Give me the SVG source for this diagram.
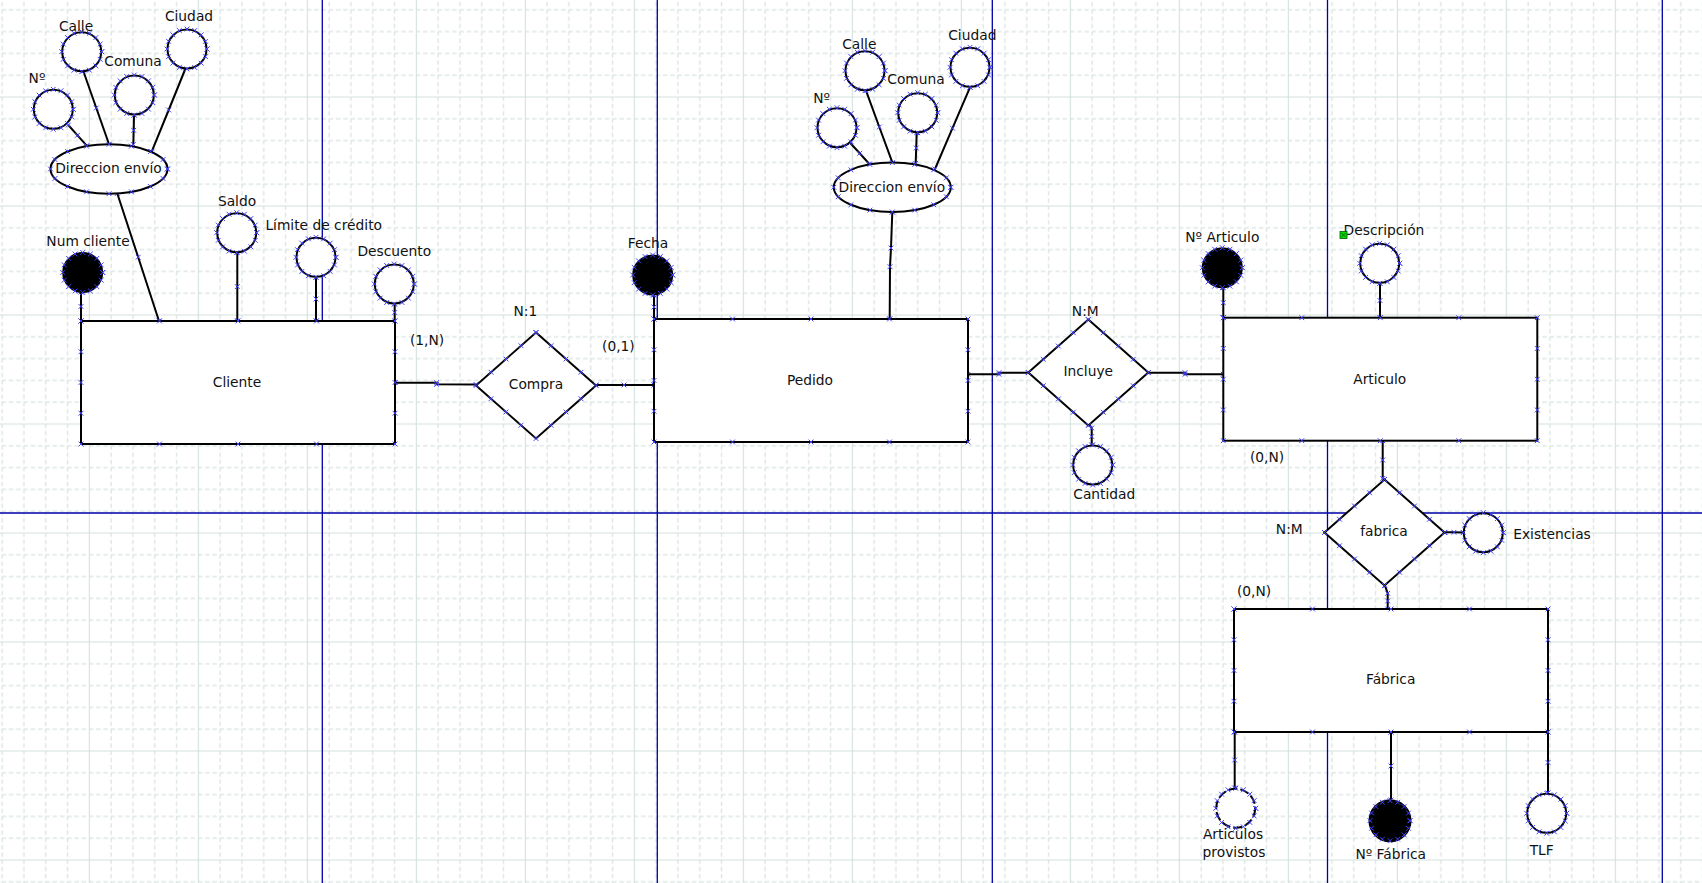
<svg xmlns="http://www.w3.org/2000/svg" xmlns:xlink="http://www.w3.org/1999/xlink" width="1702" height="883" viewBox="0 0 1702 883">
<style>
.sh{fill:#fff;stroke:#000;stroke-width:2}
.key{fill:#000;stroke:#000;stroke-width:2}
.dash{fill:#fff;stroke:#000;stroke-width:2;stroke-dasharray:9 3}
.ln{fill:none;stroke:#000;stroke-width:2;marker-start:url(#x);marker-mid:url(#x);marker-end:url(#x)}
.pts{fill:none;stroke:none;marker-start:url(#x);marker-mid:url(#x);marker-end:url(#x)}
.page{stroke:#0000a8;stroke-width:1.3;fill:none}
text{font-family:"DejaVu Sans","Liberation Sans",sans-serif;font-size:13.8px;fill:#111;text-anchor:middle}
</style>
<defs>
<marker id="x" markerUnits="userSpaceOnUse" markerWidth="8" markerHeight="8" viewBox="0 0 8 8" refX="4" refY="4" overflow="visible">
<path d="M1.6,1.6L6.4,6.4M1.6,6.4L6.4,1.6" stroke="#4040ff" stroke-width="1" fill="none"/>
</marker>
<pattern id="grid" patternUnits="userSpaceOnUse" x="88.8" y="96.5" width="109" height="109">
<path d="M0.5,0V109M0,0.5H109" stroke="#d2e0dd" stroke-width="1.2" fill="none"/>
<path d="M22.3,0V109M44.1,0V109M65.9,0V109M87.7,0V109M0,22.3H109M0,44.1H109M0,65.9H109M0,87.7H109" stroke="#d6e2df" stroke-width="1.2" stroke-dasharray="4.5 2.77" fill="none"/>
</pattern>
<path id="cpts" class="pts" d="M20,0L18.48,7.65L14.14,14.14L7.65,18.48L0,20L-7.65,18.48L-14.14,14.14L-18.48,7.65L-20,0L-18.48,-7.65L-14.14,-14.14L-7.65,-18.48L0,-20L7.65,-18.48L14.14,-14.14L18.48,-7.65Z"/>
<path id="epts" class="pts" d="M58.5,0L54.05,9.45L41.37,17.47L22.39,22.82L0,24.7L-22.39,22.82L-41.37,17.47L-54.05,9.45L-58.5,0L-54.05,-9.45L-41.37,-17.47L-22.39,-22.82L0,-24.7L22.39,-22.82L41.37,-17.47L54.05,-9.45Z"/>
<path id="rpts" class="pts" d="M0,0L78.5,0L157,0L235.5,0L314,0L314,30.75L314,61.5L314,92.25L314,123L235.5,123L157,123L78.5,123L0,123L0,92.25L0,61.5L0,30.75Z"/>
<path id="dpts" class="pts" d="M0,-53L15,-39.75L30,-26.5L45,-13.25L60,0L45,13.25L30,26.5L15,39.75L0,53L-15,39.75L-30,26.5L-45,13.25L-60,0L-45,-13.25L-30,-26.5L-15,-39.75Z"/>
</defs>
<rect x="0" y="0" width="1702" height="883" fill="#fff"/>
<rect x="0" y="0" width="1702" height="883" fill="url(#grid)"/>
<g id="pages">
<path class="page" d="M322.3,0V883M657.3,0V883M992.3,0V883M1327.5,0V883M1662.3,0V883M0,513H1702"/>
</g>
<g id="connectors">
<path class="ln" d="M81,292L81,306.5L81,321"/>
<path class="ln" d="M237.3,252.2L237.3,286.6L237.3,321"/>
<path class="ln" d="M316,277.3L316,299L316,321"/>
<path class="ln" d="M394.7,304L394.7,312.5L394.7,321"/>
<path class="ln" d="M117.3,193.5L138.2,257.2L159,321"/>
<path class="ln" d="M68.3,125L77.5,135.3L86.7,145.7"/>
<path class="ln" d="M83.3,71L96.3,108L109.3,145"/>
<path class="ln" d="M134,115L133.7,130.3L133.3,144.5"/>
<path class="ln" d="M185.7,68L168.7,110L151.7,151.7"/>
<path class="ln" d="M395,382.7L436.6,382.7L436.6,384.3L476,384.5"/>
<path class="ln" d="M596,385L624,385L654,385"/>
<path class="ln" d="M654,295L654,307L654,319"/>
<path class="ln" d="M892.3,212L891,248L890,266.7L889.7,319"/>
<path class="ln" d="M850,142.7L859.7,153.3L869.3,164"/>
<path class="ln" d="M866,90.7L879.3,127L892.7,163.3"/>
<path class="ln" d="M916.7,132.7L916.2,148L915.7,163.3"/>
<path class="ln" d="M970,87.3L952.5,128.2L935,169"/>
<path class="ln" d="M968,374.3L999,374.3L999,372.7L1028.3,372.7"/>
<path class="ln" d="M1148.3,372.7L1185,372.7L1185,374.3L1223.3,374.3"/>
<path class="ln" d="M1089,424.3L1091.7,428L1091.7,436.5L1091.7,445"/>
<path class="ln" d="M1223.3,287.7L1223.3,302.7L1223.3,317.7"/>
<path class="ln" d="M1380,283.3L1380,300.5L1380,317.7"/>
<path class="ln" d="M1382.7,440.7L1382.7,460L1382.7,478.5L1384.3,479.5"/>
<path class="ln" d="M1445,532.3L1454,532.3L1463.3,532.5"/>
<path class="ln" d="M1385,585.7L1387.7,593.3L1387.7,601L1387.7,609"/>
<path class="ln" d="M1234.7,732L1234.7,760L1234.7,788"/>
<path class="ln" d="M1391,732L1391,766L1391,800"/>
<path class="ln" d="M1548,732L1548,762.5L1548,793"/>
</g>
<g id="cliente">
<rect class="sh" x="81" y="321" width="314" height="123"/>
<use xlink:href="#rpts" x="81" y="321"/>
<text x="237" y="387">Cliente</text>
</g>
<g id="num-cliente">
<circle class="key" cx="82.7" cy="272.5" r="19.5"/>
<use xlink:href="#cpts" x="82.7" y="272.5"/>
<text x="88" y="246">Num cliente</text>
</g>
<g id="saldo">
<circle class="sh" cx="236.7" cy="232.7" r="19.5"/>
<use xlink:href="#cpts" x="236.7" y="232.7"/>
<text x="237" y="205.7">Saldo</text>
</g>
<g id="limite-credito">
<circle class="sh" cx="316" cy="257.3" r="19.5"/>
<use xlink:href="#cpts" x="316" y="257.3"/>
<text x="323.7" y="230">Límite de crédito</text>
</g>
<g id="descuento">
<circle class="sh" cx="394.3" cy="284" r="19.5"/>
<use xlink:href="#cpts" x="394.3" y="284"/>
<text x="394.3" y="256">Descuento</text>
</g>
<g id="direccion1">
<ellipse class="sh" cx="109" cy="169" rx="58.5" ry="24.7"/>
<use xlink:href="#epts" x="109" y="169"/>
<text x="108.5" y="173">Direccion envío</text>
</g>
<g id="numero1">
<circle class="sh" cx="53.3" cy="109.3" r="19.5"/>
<use xlink:href="#cpts" x="53.3" y="109.3"/>
<text x="37" y="83">Nº</text>
</g>
<g id="calle1">
<circle class="sh" cx="81.7" cy="51.7" r="19.5"/>
<use xlink:href="#cpts" x="81.7" y="51.7"/>
<text x="76" y="30.7">Calle</text>
</g>
<g id="comuna1">
<circle class="sh" cx="134.3" cy="95" r="19.5"/>
<use xlink:href="#cpts" x="134.3" y="95"/>
<text x="133" y="66">Comuna</text>
</g>
<g id="ciudad1">
<circle class="sh" cx="187" cy="49" r="19.5"/>
<use xlink:href="#cpts" x="187" y="49"/>
<text x="189" y="21">Ciudad</text>
</g>
<g id="compra">
<polygon class="sh" points="536,332.5 596,385.5 536,438.5 476,385.5"/>
<use xlink:href="#dpts" x="536" y="385.5"/>
<text x="536" y="389.3">Compra</text>
<text x="525.4" y="315.7">N:1</text>
<text x="427" y="345">(1,N)</text>
<text x="618.4" y="350.7">(0,1)</text>
</g>
<g id="pedido">
<rect class="sh" x="654" y="319" width="314" height="123"/>
<use xlink:href="#rpts" x="654" y="319"/>
<text x="810" y="385">Pedido</text>
</g>
<g id="fecha">
<circle class="key" cx="652.7" cy="275" r="19.5"/>
<use xlink:href="#cpts" x="652.7" y="275"/>
<text x="648" y="247.7">Fecha</text>
</g>
<g id="direccion2">
<ellipse class="sh" cx="892.3" cy="187.3" rx="58.5" ry="24.7"/>
<use xlink:href="#epts" x="892.3" y="187.3"/>
<text x="891.8" y="192.3">Direccion envío</text>
</g>
<g id="numero2">
<circle class="sh" cx="837" cy="127.7" r="19.5"/>
<use xlink:href="#cpts" x="837" y="127.7"/>
<text x="821.7" y="102.7">Nº</text>
</g>
<g id="calle2">
<circle class="sh" cx="865" cy="70.7" r="19.5"/>
<use xlink:href="#cpts" x="865" y="70.7"/>
<text x="859.3" y="49">Calle</text>
</g>
<g id="comuna2">
<circle class="sh" cx="917.7" cy="112.7" r="19.5"/>
<use xlink:href="#cpts" x="917.7" y="112.7"/>
<text x="916" y="84">Comuna</text>
</g>
<g id="ciudad2">
<circle class="sh" cx="970" cy="67.3" r="19.5"/>
<use xlink:href="#cpts" x="970" y="67.3"/>
<text x="972.3" y="40">Ciudad</text>
</g>
<g id="incluye">
<polygon class="sh" points="1088.3,319.5 1148.3,372.5 1088.3,425.5 1028.3,372.5"/>
<use xlink:href="#dpts" x="1088.3" y="372.5"/>
<text x="1088.3" y="376">Incluye</text>
<text x="1085.3" y="315.7">N:M</text>
</g>
<g id="cantidad">
<circle class="sh" cx="1092.7" cy="465" r="19.5"/>
<use xlink:href="#cpts" x="1092.7" y="465"/>
<text x="1104.3" y="499.3">Cantidad</text>
</g>
<g id="articulo">
<rect class="sh" x="1223.3" y="317.7" width="314" height="123"/>
<use xlink:href="#rpts" x="1223.3" y="317.7"/>
<text x="1379.7" y="383.7">Articulo</text>
<text x="1267" y="461.7">(0,N)</text>
</g>
<g id="num-articulo">
<circle class="key" cx="1222.3" cy="267.7" r="19.5"/>
<use xlink:href="#cpts" x="1222.3" y="267.7"/>
<text x="1222.3" y="241.7">Nº Articulo</text>
</g>
<g id="descripcion">
<circle class="sh" cx="1379.7" cy="263.3" r="19.5"/>
<use xlink:href="#cpts" x="1379.7" y="263.3"/>
<text x="1384" y="234.7">Descripción</text>
<rect x="1340" y="231.5" width="7" height="7" fill="#00dd00" stroke="#005500" stroke-width="0.8"/>
<path d="M1341.5,233L1345.5,237M1341.5,237L1345.5,233" stroke="#005500" stroke-width="0.8"/>
</g>
<g id="fabrica-rel">
<polygon class="sh" points="1384.5,479.5 1444.5,532.5 1384.5,585.5 1324.5,532.5"/>
<use xlink:href="#dpts" x="1384.5" y="532.5"/>
<text x="1384" y="536">fabrica</text>
<text x="1289.3" y="534">N:M</text>
<text x="1254" y="595.7">(0,N)</text>
</g>
<g id="existencias">
<circle class="sh" cx="1483.3" cy="532.7" r="19.5"/>
<use xlink:href="#cpts" x="1483.3" y="532.7"/>
<text x="1552" y="538.7">Existencias</text>
</g>
<g id="fabrica">
<rect class="sh" x="1234" y="609" width="314" height="123"/>
<use xlink:href="#rpts" x="1234" y="609"/>
<text x="1390.7" y="684">Fábrica</text>
</g>
<g id="articulos-provistos">
<circle class="dash" cx="1235.7" cy="808.3" r="19.5"/>
<use xlink:href="#cpts" x="1235.7" y="808.3"/>
<text x="1233" y="839">Articulos</text>
<text x="1234" y="856.7">provistos</text>
</g>
<g id="num-fabrica">
<circle class="key" cx="1390" cy="820.7" r="20.5"/>
<use xlink:href="#cpts" x="1390" y="820.7"/>
<text x="1390.7" y="859.3">Nº Fábrica</text>
</g>
<g id="tlf">
<circle class="sh" cx="1546.7" cy="813.3" r="19.5"/>
<use xlink:href="#cpts" x="1546.7" y="813.3"/>
<text x="1541.7" y="855">TLF</text>
</g>
</svg>
